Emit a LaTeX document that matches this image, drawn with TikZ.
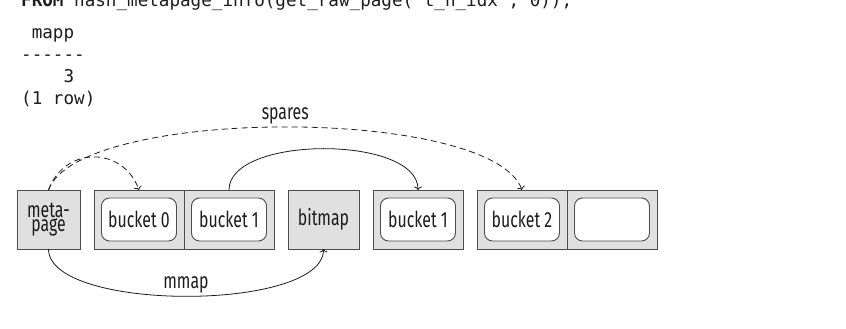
\documentclass[tikz,border=0pt]{standalone}
\usepackage{fontspec}
\setmonofont{DejaVu Sans Mono}
\newfontfamily\labelfont[FakeStretch=0.72]{Fira Sans}
\usetikzlibrary{arrows.meta, positioning}
\definecolor{my_darkgray}{HTML}{4D4D4D}
\definecolor{my_lightgray}{HTML}{E0E0E0}
\definecolor{my_ink}{HTML}{1C1C1C}

\begin{document}
\begin{tikzpicture}[
    x=1pt, y=1pt,
    page/.style={draw=my_darkgray, fill=my_lightgray, line width=0.9pt,
        minimum height=59pt, inner sep=0pt, outer sep=0pt, align=center,
        font=\labelfont\fontsize{22}{14}\selectfont, text=my_ink},
    cell/.style={page, minimum width=90pt},
    bucket/.style={draw=my_darkgray, fill=white, line width=0.9pt,
        rounded corners=8pt, minimum width=75pt, minimum height=43pt,
        inner sep=0pt, font=\labelfont\fontsize{22}{22}\selectfont, text=my_ink},
    link/.style={draw=my_ink, line width=0.8pt, -{To[length=3.5pt, width=8pt]}},
    ptr/.style={link, dash pattern=on 6pt off 4pt},
    note/.style={font=\labelfont\fontsize{22}{22}\selectfont, text=my_ink, inner sep=0pt},
    psql/.style={font=\ttfamily\fontsize{17.6}{22.5}\selectfont, text=my_ink,
        anchor=base west, inner sep=0pt}
]
\useasboundingbox (0,0) rectangle (846,329);

%% ================================================================
%% psql-Ausgabe oben links
%% ================================================================
\node[psql] (query) at (21,322) {\textbf{FROM} hash\_metapage\_info(get\_raw\_page('t\_h\_idx', 0));};
\foreach \txt [count=\i from 0] in {{\hphantom{0}mapp}, {------}, {\hphantom{0000}3}, {(1 row)}} {
    \node[psql] (out\i) at (21, 290.5-22*\i) {\txt};
}

%% ================================================================
%% Seiten des Index
%% ================================================================
\node[page, minimum width=63pt] (meta) at (48.5,109.5) {meta-\\page};
\node[cell, right=14pt of meta]  (cell0) {};
\node[cell, right=0pt of cell0]  (cell1) {};
\node[page, minimum width=71pt, right=14pt of cell1] (bitmap) {bitmap};
\node[cell, right=14pt of bitmap] (cell2) {};
\node[cell, right=14pt of cell2]  (cell3) {};
\node[cell, right=0pt of cell3]   (cell4) {};

%% --- Buckets in den Seiten ---
\node[bucket] (bkt0) at (cell0) {bucket 0};
\node[bucket] (bkt1) at (cell1) {bucket 1};
\node[bucket] (bkt1b) at (cell2) {bucket 1};
\node[bucket] (bkt2) at (cell3) {bucket 2};
\node[bucket] (bktfree) at (cell4) {};

%% ================================================================
%% Verweise
%% ================================================================
\draw[ptr] (meta.north) .. controls +(30,84) and +(-30,84) .. (cell3.north)
    node[note, pos=0.5, above=2pt] (spares) {spares};
\draw[ptr] (meta.north) .. controls +(16,44) and +(-16,44) .. (cell0.north);
\draw[link] (cell1.north) .. controls +(0,55) and +(0,55) .. (cell2.north);
\draw[link] (meta.south) .. controls +(0,-63) and +(0,-63) .. (bitmap.south)
    node[note, pos=0.5, above=3pt] (mmap) {mmap};

\end{tikzpicture}
\end{document}
